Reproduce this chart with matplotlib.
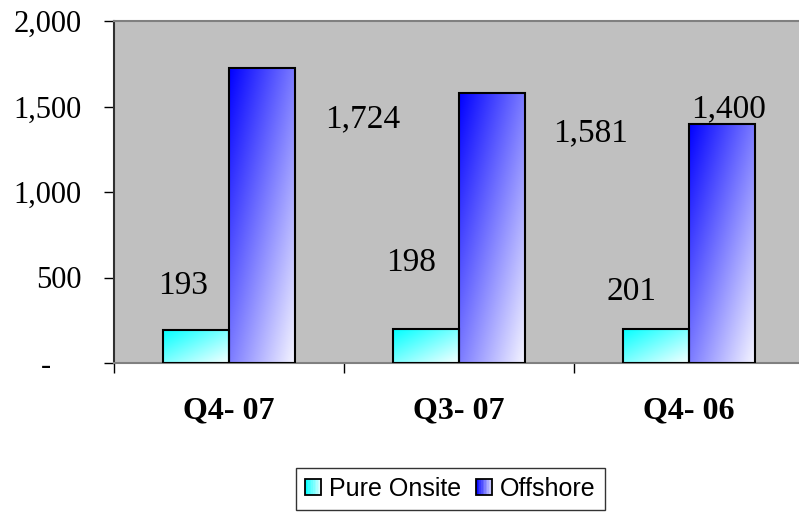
import numpy as np
import matplotlib
matplotlib.use('Agg')
import matplotlib.pyplot as plt
from matplotlib.patches import Rectangle
from matplotlib.legend_handler import HandlerBase

plt.rcParams['font.family'] = ['Liberation Serif', 'DejaVu Serif']

### Data
quarters = ['Q4- 07', 'Q3- 07', 'Q4- 06']
pure_onsite = [193, 198, 201]
offshore = [1724, 1581, 1400]
onsite_labels = ['193', '198', '201']
offshore_labels = ['1,724', '1,581', '1,400']
yticks = [0, 500, 1000, 1500, 2000]
ytick_labels = ['-    ', '500', '1,000', '1,500', '2,000']

# where the original chart left its data labels (they float off the bars)
onsite_lab_pos = [(-0.20, 450), (0.79, 585), (1.75, 415)]
offshore_lab_pos = [(0.58, 1427), (1.57, 1345), (2.17, 1485)]

CYAN = np.array([0.0, 1.0, 1.0])
BLUE = np.array([0.0, 0.0, 1.0])
WHITE = np.array([1.0, 1.0, 1.0])


def gradient_fill(ax, bar, base):
    # diagonal fill: saturated top-left, white bottom-right
    x0, y0 = bar.get_x(), bar.get_y()
    w, h = bar.get_width(), bar.get_height()
    U, V = np.meshgrid(np.linspace(0, 1, 80), np.linspace(0, 1, 160))
    t = ((U + V) / 2)[..., None] * 0.97
    img = base * (1 - t) + WHITE * t
    ax.imshow(img, extent=(x0, x0 + w, y0, y0 + h), origin='upper',
              aspect='auto', interpolation='bilinear', zorder=2.5)


class GradHandler(HandlerBase):
    def __init__(self, base):
        super().__init__()
        self.base = base

    def create_artists(self, legend, orig_handle, xdescent, ydescent,
                       width, height, fontsize, trans):
        arts = []
        n = 10
        for k in range(n):
            t = (k + 0.5) / n * 0.9
            c = self.base * (1 - t) + WHITE * t
            arts.append(Rectangle((-xdescent + k * width / n, -ydescent), width / n, height,
                                  facecolor=c, edgecolor='none', transform=trans))
        arts.append(Rectangle((-xdescent, -ydescent), width, height, facecolor='none',
                              edgecolor='black', lw=1.3, transform=trans))
        return arts


fig = plt.figure(figsize=(7.99, 5.16), dpi=100)
ax = fig.add_axes([114 / 799, 153 / 516, 690 / 799, 342 / 516])
ax.set_facecolor('#c0c0c0')

w = 0.287
x = np.arange(len(quarters))
b1 = ax.bar(x - w / 2, pure_onsite, w, facecolor='none', edgecolor='black', lw=1.5, zorder=3)
b2 = ax.bar(x + w / 2, offshore, w, facecolor='none', edgecolor='black', lw=1.5, zorder=3)
for bar in b1:
    gradient_fill(ax, bar, CYAN)
for bar in b2:
    gradient_fill(ax, bar, BLUE)

for (lx, ly), s in zip(onsite_lab_pos, onsite_labels):
    ax.text(lx, ly, s, fontsize=24, ha='center', va='center', zorder=4)
for (lx, ly), s in zip(offshore_lab_pos, offshore_labels):
    ax.text(lx, ly, s, fontsize=24, ha='center', va='center', zorder=4)

ax.set_xlim(-0.5, 2.5)
ax.set_ylim(0, 2000)
ax.set_yticks(yticks, ytick_labels)
ax.tick_params(axis='y', length=7.2, width=1, pad=16, labelsize=22, color='black')

ax.set_xticks([-0.5, 0.5, 1.5, 2.5], ['', '', '', ''])
ax.set_xticks(x, quarters, minor=True)
ax.tick_params(axis='x', which='major', length=7.2, width=1, color='black')
ax.tick_params(axis='x', which='minor', length=0, pad=24, labelsize=23)
for lbl in ax.get_xticklabels(minor=True):
    lbl.set_fontweight('bold')

for side in ['top', 'bottom', 'right']:
    ax.spines[side].set_color('#808080')
    ax.spines[side].set_linewidth(1.5)
ax.spines['left'].set_color('#303030')
ax.spines['left'].set_linewidth(1.5)

h1 = Rectangle((0, 0), 1, 1)
h2 = Rectangle((0, 0), 1, 1)
leg = fig.legend([h1, h2], ['Pure Onsite', 'Offshore'], ncol=2,
                 loc='upper left', bbox_to_anchor=(296 / 799, 1 - 468 / 516),
                 handler_map={h1: GradHandler(CYAN), h2: GradHandler(BLUE)},
                 prop={'family': 'Liberation Sans', 'size': 18},
                 frameon=True, fancybox=False, shadow=False,
                 handlelength=0.64, handleheight=0.64, handletextpad=0.32,
                 columnspacing=0.6, borderpad=0.36, borderaxespad=0)
leg.get_frame().set_edgecolor('black')
leg.get_frame().set_linewidth(1.0)

fig.savefig('out.png', dpi=100)
